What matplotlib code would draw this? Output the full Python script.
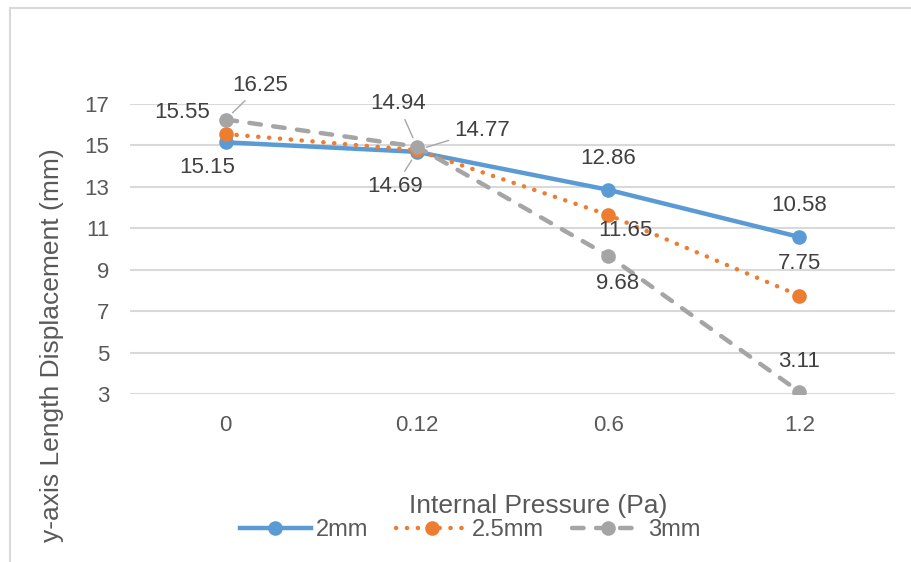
import matplotlib.pyplot as plt
from matplotlib.patches import Rectangle

plt.rcParams['font.family'] = ['Liberation Sans', 'DejaVu Sans']

pressure = ['0', '0.12', '0.6', '1.2']
series_names = ['2mm', '2.5mm', '3mm']
disp_2mm = [15.15, 14.69, 12.86, 10.58]
disp_25mm = [15.55, 14.77, 11.65, 7.75]
disp_3mm = [16.25, 14.94, 9.68, 3.11]
yticks = [3, 5, 7, 9, 11, 13, 15, 17]

colors = ['#5B9BD5', '#ED7D31', '#A5A5A5']
label_color = '#404040'
tick_color = '#595959'
grid_color = '#D9D9D9'

# label offsets in pixels (dx, dy) and whether a leader line is drawn
offsets = [
    [(-18, -25, False), (-22, -35, True), (0, 31, False), (0, 31, False)],
    [(-43, 22, False), (65, 20, True), (17, -16, False), (0, 32, False)],
    [(35, 34, True), (-19, 43, True), (9, -28, False), (0, 30, False)],
]

fig = plt.figure(figsize=(9.12, 5.62), dpi=100)
ax = fig.add_axes([130 / 912, 1 - 394 / 562, (895 - 130) / 912, (394 - 104) / 562])

x = list(range(len(pressure)))
styles = [
    dict(linestyle='-'),
    dict(linestyle=(0, (0.05, 2.4)), dash_capstyle='round'),
    dict(linestyle=(0, (2.6, 2.8)), dash_capstyle='round'),
]
data = [disp_2mm, disp_25mm, disp_3mm]
for name, vals, col, st in zip(series_names, data, colors, styles):
    ax.plot(x, vals, color=col, lw=3.2, marker='o', markersize=9.5,
            label=name, zorder=3, **st)

for vals, offs in zip(data, offsets):
    for xi, v, (dx, dy, lead) in zip(x, vals, offs):
        ap = None
        if lead:
            ap = dict(arrowstyle='-', color='#A6A6A6', lw=1, shrinkA=2, shrinkB=7)
        ax.annotate(f'{v:.2f}', (xi, v), xytext=(dx, dy), textcoords='offset pixels',
                    ha='center', va='center', fontsize=16, color=label_color,
                    arrowprops=ap, zorder=4)

ax.set_xlim(-0.5, 3.5)
ax.set_ylim(3, 17)
ax.set_yticks(yticks)
ax.set_xticks(x)
ax.set_xticklabels(pressure)
ax.tick_params(length=0, labelsize=16, labelcolor=tick_color)
ax.tick_params(axis='y', pad=15)
ax.tick_params(axis='x', pad=15)
ax.grid(axis='y', color=grid_color, lw=1.5)
ax.set_axisbelow(True)
for s in ax.spines.values():
    s.set_visible(False)

fig.text(538 / 912, 1 - 506 / 562, 'Internal Pressure (Pa)', ha='center', va='center',
         fontsize=19, color=tick_color)
fig.text(52 / 912, 1 - 345 / 562, 'y-axis Length Displacement (mm)', ha='center',
         va='center', rotation=90, fontsize=19, color=tick_color)

fig.legend(loc='center', bbox_to_anchor=(470 / 912, 1 - 530 / 562), ncol=3,
           frameon=False, fontsize=17, labelcolor=tick_color, handlelength=3.0,
           handletextpad=0.2, columnspacing=1.2, numpoints=1)

fig.add_artist(Rectangle((10 / 912, -0.1), 1.2, 1.1 - 8 / 562, transform=fig.transFigure,
                         fill=False, edgecolor=grid_color, lw=1.5))

fig.savefig('out.png', dpi=100)
